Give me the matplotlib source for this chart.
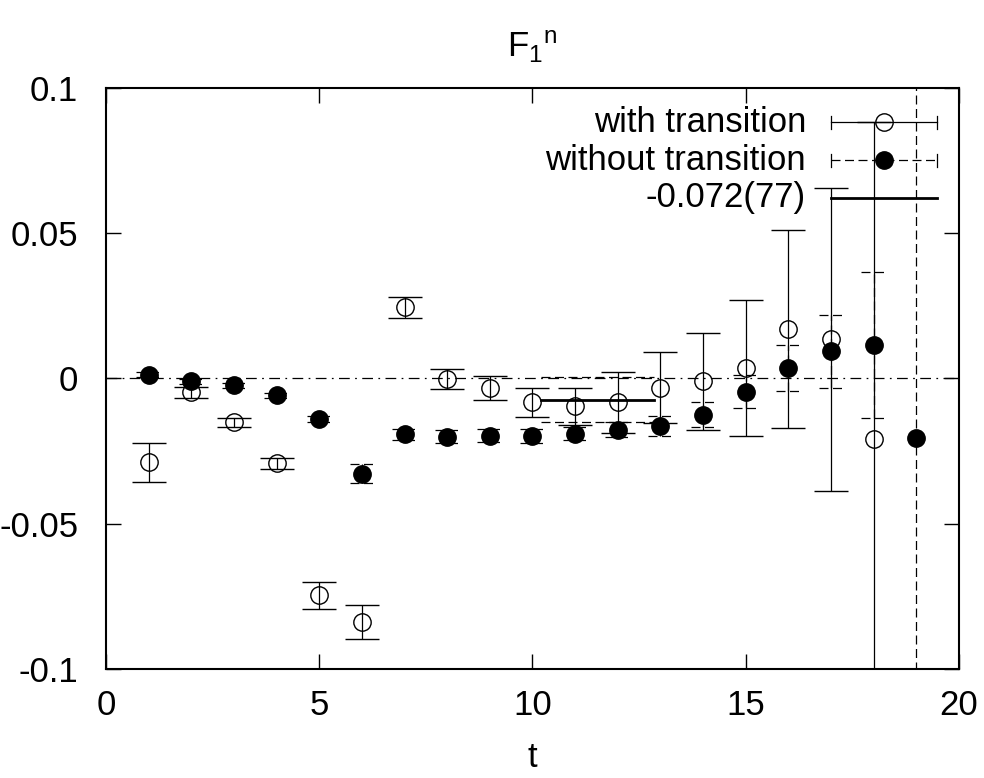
import numpy as np
import matplotlib
matplotlib.use('Agg')
import matplotlib.pyplot as plt

plt.rcParams['font.family'] = ['Liberation Sans', 'DejaVu Sans']
plt.rcParams['mathtext.fontset'] = 'custom'
plt.rcParams['mathtext.rm'] = 'Liberation Sans'
plt.rcParams['axes.unicode_minus'] = False

# with transition (open circles)
t_with = [1, 2, 3, 4, 5, 6, 7, 8, 9, 10, 11, 12, 13, 14, 15, 16, 17, 18]
f_with = [-0.0288, -0.0048, -0.0151, -0.0292, -0.0745, -0.0837, 0.0245, -0.0001, -0.0033,
          -0.0081, -0.0096, -0.0082, -0.0031, -0.0009, 0.0036, 0.0170, 0.0135, -0.0208]
e_with = [0.0068, 0.0020, 0.0015, 0.0020, 0.0046, 0.0057, 0.0036, 0.0034, 0.0040,
          0.0050, 0.0065, 0.0105, 0.0123, 0.0167, 0.0234, 0.0340, 0.0520, 0.1090]

# without transition (filled circles)
t_without = [1, 2, 3, 4, 5, 6, 7, 8, 9, 10, 11, 12, 13, 14, 15, 16, 17, 18, 19]
f_without = [0.0013, -0.0010, -0.0024, -0.0058, -0.0139, -0.0327, -0.0192, -0.0200, -0.0197,
             -0.0197, -0.0190, -0.0176, -0.0162, -0.0125, -0.0045, 0.0036, 0.0093, 0.0115, -0.0206]
e_without = [0.0008, 0.0008, 0.0008, 0.0008, 0.0010, 0.0033, 0.0018, 0.0022, 0.0022,
             0.0023, 0.0023, 0.0025, 0.0034, 0.0043, 0.0057, 0.0080, 0.0126, 0.0250, 0.1500]

# constant fit
fit_range = [10.2, 12.85]
fit_value = -0.0073
fit_error = 0.0077
fit_label = '-0.072(77)'

capw = 0.29  # half cap width in t units
dash = (0, (7.2, 3.6))
fs = 25

fig = plt.figure(figsize=(9.84, 7.78), dpi=100)
ax = fig.add_axes([0.1077, 0.1395, 0.8669, 0.748])

ax.axhline(0, color='black', lw=0.9, linestyle=(0, (8.6, 4.3, 1.4, 4.3)), zorder=1)

tw = np.array(t_with)
fw = np.array(f_with)
ew = np.array(e_with)
ax.errorbar(tw, fw, yerr=ew, fmt='o', ms=12.5, mfc='none', mec='black', mew=1.0,
            ecolor='black', elinewidth=0.9, capsize=12.3, capthick=0.9, zorder=3)

tn = np.array(t_without)
fn = np.array(f_without)
en = np.array(e_without)
eb = ax.errorbar(tn, fn, yerr=en, fmt='o', ms=12.5, mfc='black', mec='black',
                 ecolor='black', elinewidth=0.9, capsize=0, zorder=3)
for col in eb[2]:
    col.set_linestyle(dash)
ax.hlines(np.concatenate([fn + en, fn - en]), np.concatenate([tn, tn]) - capw,
          np.concatenate([tn, tn]) + capw, colors='black', lw=0.9, linestyles=[dash], zorder=3)

ax.plot(fit_range, [fit_value, fit_value], color='black', lw=2.0, zorder=2)
ax.plot(fit_range, [fit_value + fit_error] * 2, color='black', lw=0.9, linestyle=dash, zorder=2)
ax.plot(fit_range, [fit_value - fit_error] * 2, color='black', lw=0.9, linestyle=dash, zorder=2)

ax.set_xlim(0, 20)
ax.set_ylim(-0.1, 0.1)
ax.set_xticks([0, 5, 10, 15, 20])
ax.set_yticks([-0.1, -0.05, 0, 0.05, 0.1])
ax.yaxis.set_major_formatter(plt.FuncFormatter(lambda v, p: '%g' % round(v, 3)))
ax.tick_params(direction='in', length=11, width=1.0, top=True, right=True, labelsize=fs)
ax.tick_params(axis='y', pad=20)
ax.tick_params(axis='x', pad=14)
for s in ax.spines.values():
    s.set_linewidth(1.5)

ax.set_title(r'$\mathrm{F_1{}^n}$', fontsize=fs, pad=22)
ax.set_xlabel('t', fontsize=fs, labelpad=14)

# legend, gnuplot style
tx = 0.8206
x0, x1 = 0.85, 0.974
xm = (x0 + x1) / 2
rows = [0.940, 0.875, 0.811]
labels = ['with transition', 'without transition', fit_label]
for y, lab in zip(rows, labels):
    ax.text(tx, y, lab, transform=ax.transAxes, ha='right', va='center', fontsize=fs)
tr = ax.transAxes
ch = 0.011
ax.plot([x0, x1], [rows[0]] * 2, transform=tr, color='black', lw=0.9)
for xx in (x0, x1):
    ax.plot([xx, xx], [rows[0] - ch, rows[0] + ch], transform=tr, color='black', lw=0.9)
ax.plot([xm], [rows[0]], 'o', transform=tr, ms=12.5, mfc='none', mec='black', mew=1.0)
ax.plot([x0, x1], [rows[1]] * 2, transform=tr, color='black', lw=0.9, linestyle=dash)
for xx in (x0, x1):
    ax.plot([xx, xx], [rows[1] - ch, rows[1] + ch], transform=tr, color='black', lw=0.9)
ax.plot([xm], [rows[1]], 'o', transform=tr, ms=12.5, mfc='black', mec='black')
ax.plot([x0, x1], [rows[2]] * 2, transform=tr, color='black', lw=2.0)

fig.savefig('out.png', dpi=100)
